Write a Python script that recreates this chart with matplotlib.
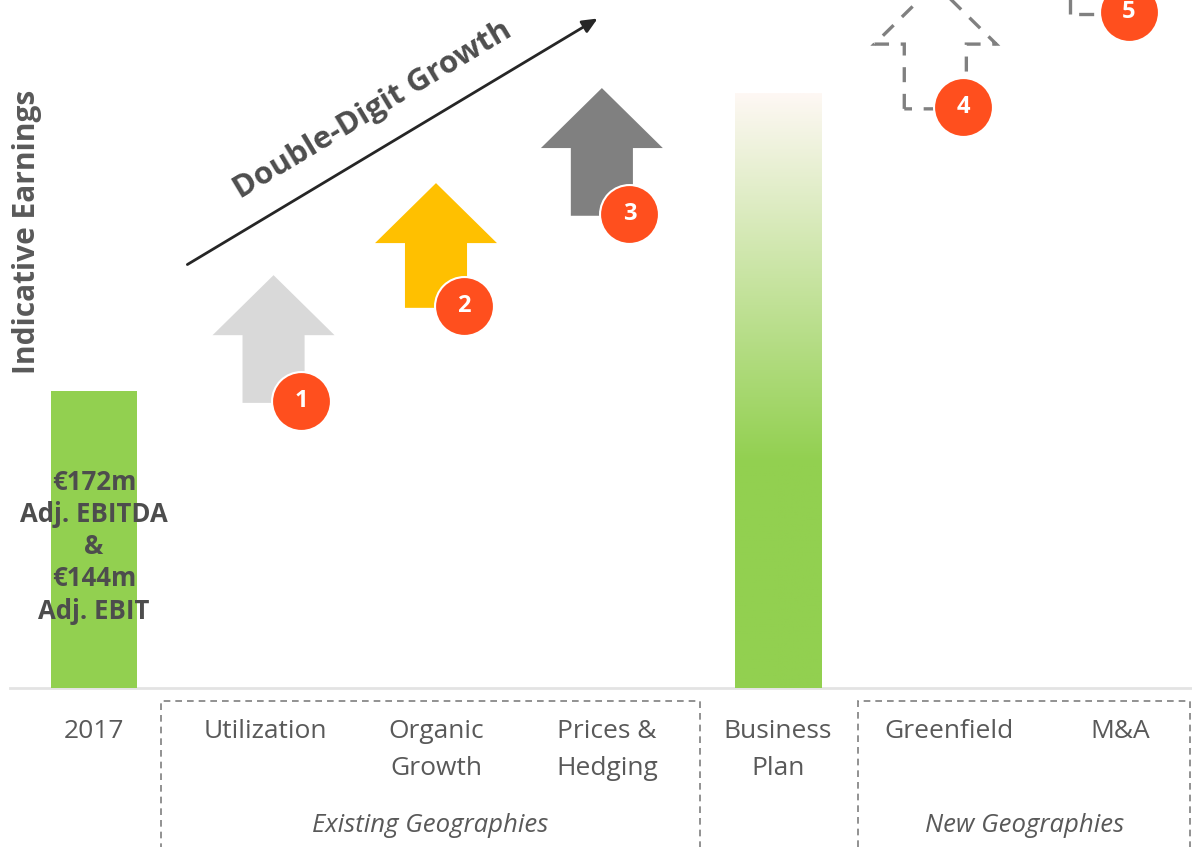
import numpy as np
import matplotlib
matplotlib.use("Agg")
import matplotlib.pyplot as plt
from matplotlib.patches import Polygon, Rectangle
from matplotlib.colors import to_rgb

plt.rcParams["font.family"] = ["Open Sans", "DejaVu Sans"]

# ---- data (indicative earnings, 2017 = 100) ----
categories = ["2017", "Utilization", "Organic\nGrowth", "Prices &\nHedging",
              "Business\nPlan", "Greenfield", "M&A"]
bar_2017 = 100
bar_plan = 200
step_labels = ["1", "2", "3", "4", "5"]
step_cat = [1, 2, 3, 5, 6]
step_bottom = [96, 128, 159, 195, 227]
step_top = [139, 170, 202, 237, 269]
step_colors = ["#D9D9D9", "#FFC000", "#808080", None, None]
group_names = ["Existing Geographies", "New Geographies"]

# ---- layout ----
GREEN = "#92D050"
RED = "#FF4F1E"
TXT = "#595959"
px_x = 171.0          # pixels per category
px_y = 2.97           # pixels per earnings unit
x0_px, base_px = 94, 688
W, H = 1192, 847

fig = plt.figure(figsize=(W / 100, H / 100), dpi=100)
ax = fig.add_axes([0, 0, 1, 1])
ax.set_xlim(-x0_px / px_x, (W - x0_px) / px_x)
ax.set_ylim(-(H - base_px) / px_y, base_px / px_y)
ax.axis("off")

bar_w = 0.503
head_w = 0.713
body_w = 0.363
head_h = 20.2
x_shift = [0.05, 0.0, -0.03, -0.08, -0.11]

# baseline
ax.plot([-0.49, 6.5], [0, 0], color="#E3E3E3", lw=2, zorder=1)

# 2017 bar
ax.bar(0, bar_2017, width=bar_w, color=GREEN, zorder=2)
ax.text(0, 47.5, "€172m\nAdj. EBITDA\n&\n€144m\nAdj. EBIT", ha="center", va="center",
        fontsize=18.5, fontweight="bold", color="#4D4D4D", linespacing=1.24, zorder=5)

# Business plan bar with gradient (fades out towards the top)
top_c = np.array(to_rgb("#FEF8F4"))
bot_c = np.array(to_rgb(GREEN))
t = np.linspace(0, 1, 256)
f = np.clip(t / 0.62, 0, 1)
grad = top_c[None, :] * (1 - f[:, None]) + bot_c[None, :] * f[:, None]
ax.imshow(grad[:, None, :], extent=[4 - bar_w / 2, 4 + bar_w / 2, 0, bar_plan],
          aspect="auto", origin="upper", zorder=2)

# step arrows
for i in range(5):
    cx = step_cat[i] + x_shift[i]
    b, tp = step_bottom[i], step_top[i]
    pts = [(cx - body_w / 2, b), (cx - body_w / 2, tp - head_h), (cx - head_w / 2, tp - head_h),
           (cx, tp), (cx + head_w / 2, tp - head_h), (cx + body_w / 2, tp - head_h),
           (cx + body_w / 2, b)]
    if step_colors[i]:
        ax.add_patch(Polygon(pts, closed=True, facecolor=step_colors[i], edgecolor="none", zorder=3))
    else:
        ax.add_patch(Polygon(pts, closed=True, facecolor="none", edgecolor="#808080",
                             lw=2.4, linestyle=(0, (4.5, 3.5)), joinstyle="miter", zorder=3))
    ax.scatter(cx + body_w / 2 - 0.02, b + 0.5, s=1800, color=RED, edgecolor="white",
               linewidth=1.5, zorder=6)
    ax.text(cx + body_w / 2 - 0.02, b + 0.5, step_labels[i], ha="center", va="center",
            fontsize=17, fontweight="bold", color="white", zorder=7)

# growth arrow
ax.annotate("", xy=(2.959, 225.9), xytext=(0.532, 142.1),
            arrowprops=dict(arrowstyle="-|>,head_length=0.9,head_width=0.4",
                            color="#262626", lw=2), zorder=4)
ax.text(1.63, 194.5, "Double-Digit Growth", rotation=30.96, rotation_mode="anchor",
        ha="center", va="center", fontsize=22.5, fontweight="bold", color="#4D4D4D")

# y label
ax.text(-0.392, 153.5, "Indicative Earnings", rotation=90, ha="center", va="center",
        fontsize=21.5, fontweight="bold", color=TXT)

# category labels
for i, c in enumerate(categories):
    ax.text(i, -10.6, c, ha="center", va="top", fontsize=19, color=TXT, linespacing=1.58)

# group boxes
ax.add_patch(Rectangle((0.392, -70), 3.544 - 0.392, 70 - 4.4, fill=False, edgecolor="#7F7F7F",
                       lw=1.2, linestyle=(0, (4, 3)), clip_on=True))
ax.add_patch(Rectangle((4.468, -70), 6.412 - 4.468, 70 - 4.4, fill=False, edgecolor="#7F7F7F",
                       lw=1.2, linestyle=(0, (4, 3)), clip_on=True))
ax.text(1.965, -46.4, group_names[0], ha="center", va="center", fontsize=18.5,
        style="italic", color=TXT)
ax.text(5.44, -46.4, group_names[1], ha="center", va="center", fontsize=18.5,
        style="italic", color=TXT)

fig.savefig("out.png", dpi=100)
